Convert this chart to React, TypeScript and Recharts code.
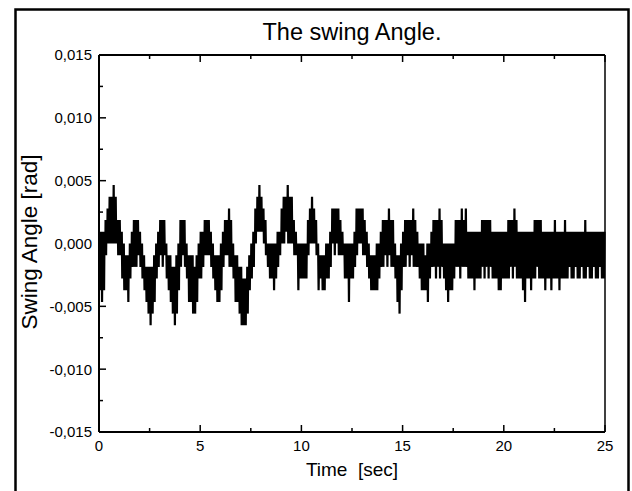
import React from 'react';
import { LineChart, Line, XAxis, YAxis } from 'recharts';

// one sample every 0.1 s, values in quantisation steps of the angle sensor
const STEP = 0.00093;
const DT = 0.1;

const upperSteps = [
  1, 1, 1, 2, 3, 4, 4, 5, 4, 2,
  2, 1, 0, -1, -1, 0, 1, 2, 2, 2,
  1, 0, -1, -2, -2, -2, -2, -1, 0, 1,
  2, 2, 2, 0, -1, -1, -2, -2, -1, 0,
  2, 2, 2, 0, -1, -1, -1, -2, -1, 0,
  1, 1, 2, 2, 2, 1, 0, -1, -1, -1,
  0, 1, 2, 2, 3, 2, 0, -1, -1, -2,
  -2, -3, -3, -2, -1, 0, 1, 3, 4, 5,
  4, 3, 2, 0, 0, 0, 0, 0, 1, 1,
  3, 4, 4, 5, 4, 4, 2, 1, 0, 0,
  0, 0, 0, 2, 3, 4, 3, 2, 0, -1,
  -1, -1, 0, 0, 1, 3, 3, 3, 3, 2,
  1, 0, 0, 0, 0, 0, 1, 3, 3, 3,
  3, 2, 1, 0, -1, -1, -1, 0, 0, 1,
  2, 2, 2, 3, 2, 2, 0, -1, -1, 0,
  1, 2, 2, 2, 2, 3, 2, 1, 0, 0,
  0, -1, 0, 0, 1, 2, 2, 2, 3, 2,
  0, 0, 0, 0, 0, 0, 2, 2, 2, 3,
  2, 3, 1, 1, 1, 1, 1, 1, 1, 2,
  2, 2, 2, 2, 1, 1, 1, 1, 1, 1,
  1, 1, 2, 2, 2, 3, 2, 1, 1, 1,
  1, 1, 1, 1, 1, 2, 2, 2, 2, 1,
  1, 1, 1, 1, 1, 2, 1, 1, 1, 1,
  2, 1, 1, 1, 1, 1, 1, 1, 1, 1,
  2, 1, 1, 1, 1, 1, 1, 1, 1, 1, 1,
];

const lowerSteps = [
  -4, -5, -4, -1, 0, 0, 0, 0, 0, -1,
  -1, -3, -4, -4, -5, -3, -2, -2, -2, -1,
  -2, -3, -4, -5, -6, -7, -6, -5, -3, -2,
  -1, -2, -1, -3, -4, -5, -6, -7, -6, -4,
  -2, -1, -2, -3, -5, -5, -6, -6, -5, -3,
  -3, -2, -1, -1, -1, -2, -3, -4, -5, -5,
  -4, -2, -1, -1, -2, -2, -3, -5, -5, -6,
  -7, -7, -7, -6, -4, -3, -2, 0, 1, 1,
  1, 0, -1, -2, -3, -3, -4, -3, -2, -1,
  0, 0, 1, 0, 0, 0, -1, -1, -4, -3,
  -3, -3, -3, -1, 0, 0, 0, -1, -4, -3,
  -4, -4, -3, -3, -2, 0, -1, 0, -1, -1,
  -1, -3, -3, -5, -3, -3, -2, -1, 0, 0,
  -1, -1, -2, -3, -4, -4, -4, -4, -3, -2,
  -2, -1, -2, -1, -2, -2, -3, -5, -6, -4,
  -2, -2, -1, -2, -1, -2, -2, -2, -3, -4,
  -4, -4, -5, -3, -2, -2, -3, -2, -3, -2,
  -3, -4, -5, -4, -4, -3, -2, -2, -3, -2,
  -2, -2, -3, -3, -3, -4, -3, -3, -3, -2,
  -3, -2, -3, -2, -3, -3, -3, -4, -4, -3,
  -3, -3, -3, -2, -3, -2, -3, -3, -3, -4,
  -5, -3, -3, -4, -3, -3, -2, -3, -3, -3,
  -4, -3, -3, -4, -3, -3, -3, -4, -3, -3,
  -3, -3, -2, -3, -3, -2, -3, -3, -2, -3,
  -3, -2, -3, -3, -2, -3, -3, -2, -3, -3, -2,
];

const xTicks = [0, 2.5, 5, 7.5, 10, 12.5, 15, 17.5, 20, 22.5, 25];
const yTicks = [
  -0.015, -0.0125, -0.01, -0.0075, -0.005, -0.0025, 0,
  0.0025, 0.005, 0.0075, 0.01, 0.0125, 0.015,
];

// the sensor flips between the two envelope levels several times per sample
const data = upperSteps
  .flatMap((u, i) => {
    const lo = lowerSteps[i] * STEP;
    const hi = u * STEP;
    const t = i * DT;
    return [
      { t, angle: hi },
      { t: t + DT * 0.25, angle: lo },
      { t: t + DT * 0.5, angle: hi },
      { t: t + DT * 0.75, angle: lo },
    ];
  })
  .filter((d) => d.t <= 25);

const FONT = '"Liberation Sans", Arial, sans-serif';

const isMajorX = (v: number) => v % 5 === 0;
const isMajorY = (v: number) => Math.round(v * 10000) % 50 === 0;
const fmtY = (v: number) => v.toFixed(3).replace('.', ',');

const BottomTick = ({ x, y, payload }: any) => {
  const major = isMajorX(payload.value);
  return (
    <g>
      <line x1={x} x2={x} y1={y} y2={y - (major ? 7 : 4)} stroke="#000" strokeWidth={1.5} />
      {major && (
        <text x={x} y={y + 19} textAnchor="middle" fontFamily={FONT} fontSize={15} fill="#000">
          {payload.value}
        </text>
      )}
    </g>
  );
};

const TopTick = ({ x, y, payload }: any) => {
  const major = isMajorX(payload.value);
  return <line x1={x} x2={x} y1={y} y2={y + (major ? 7 : 4)} stroke="#000" strokeWidth={1.5} />;
};

const LeftTick = ({ x, y, payload }: any) => {
  const major = isMajorY(payload.value);
  return (
    <g>
      <line x1={x} x2={x + (major ? 7 : 4)} y1={y} y2={y} stroke="#000" strokeWidth={1.5} />
      {major && (
        <text x={x - 7} y={y} dy="0.36em" textAnchor="end" fontFamily={FONT} fontSize={15} fill="#000">
          {fmtY(payload.value)}
        </text>
      )}
    </g>
  );
};

const RightTick = ({ x, y, payload }: any) => {
  const major = isMajorY(payload.value);
  return <line x1={x} x2={x - (major ? 7 : 4)} y1={y} y2={y} stroke="#000" strokeWidth={1.5} />;
};

export default function App() {
  return (
    <div
      style={{
        position: 'absolute',
        left: 0,
        top: 0,
        width: 632,
        height: 491,
        overflow: 'hidden',
        background: '#fff',
      }}
    >
      <svg width={632} height={491} style={{ position: 'absolute', left: 0, top: 0 }}>
        <path d="M15.5 495 V9.5 H628.5 V495" fill="none" stroke="#000" strokeWidth={2.5} />
        <text x={352} y={40} textAnchor="middle" fontFamily={FONT} fontSize={23.5} fill="#000">
          The swing Angle.
        </text>
        <text x={352} y={476} textAnchor="middle" fontFamily={FONT} fontSize={19} fill="#000" xmlSpace="preserve">
          Time  [sec]
        </text>
        <text
          x={0}
          y={0}
          transform="translate(37 242) rotate(-90)"
          textAnchor="middle"
          fontFamily={FONT}
          fontSize={22.5}
          fill="#000"
        >
          Swing Angle [rad]
        </text>
      </svg>
      <div style={{ position: 'absolute', left: 0, top: 0 }}>
        <LineChart width={632} height={491} data={data} margin={{ top: 54, right: 26, bottom: 29, left: 39 }}>
          <XAxis
            xAxisId="bottom"
            dataKey="t"
            type="number"
            domain={[0, 25]}
            ticks={xTicks}
            interval={0}
            height={30}
            tickSize={0}
            tickMargin={0}
            tick={<BottomTick />}
            axisLine={{ stroke: '#000', strokeWidth: 2 }}
          />
          <XAxis
            xAxisId="top"
            orientation="top"
            dataKey="t"
            type="number"
            domain={[0, 25]}
            ticks={xTicks}
            interval={0}
            height={1}
            tickSize={0}
            tickMargin={0}
            tick={<TopTick />}
            axisLine={{ stroke: '#000', strokeWidth: 2 }}
          />
          <YAxis
            yAxisId="left"
            type="number"
            domain={[-0.015, 0.015]}
            ticks={yTicks}
            interval={0}
            width={60}
            tickSize={0}
            tickMargin={0}
            tick={<LeftTick />}
            axisLine={{ stroke: '#000', strokeWidth: 2 }}
          />
          <YAxis
            yAxisId="right"
            orientation="right"
            type="number"
            domain={[-0.015, 0.015]}
            ticks={yTicks}
            interval={0}
            width={1}
            tickSize={0}
            tickMargin={0}
            tick={<RightTick />}
            axisLine={{ stroke: '#000', strokeWidth: 1.5 }}
          />
          <Line
            xAxisId="bottom"
            yAxisId="left"
            dataKey="angle"
            type="linear"
            stroke="#000"
            strokeWidth={1.2}
            dot={false}
            isAnimationActive={false}
          />
        </LineChart>
      </div>
    </div>
  );
}
